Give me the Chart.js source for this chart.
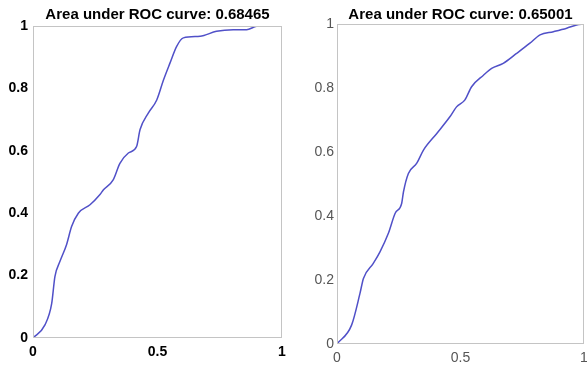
<!DOCTYPE html>
<html>
<head>
<meta charset="utf-8">
<script src="https://cdn.jsdelivr.net/npm/chart.js@4.4.1/dist/chart.umd.min.js"></script>
<style>
  html, body { margin: 0; padding: 0; background: #fff; }
  #wrap { position: relative; width: 587px; height: 366px; }
  .box { position: absolute; top: 0; height: 366px; }
  #leftBox { left: 0; width: 290px; }
  #rightBox { left: 290px; width: 297px; }
</style>
</head>
<body>
<div id="wrap">
  <div class="box" id="leftBox"><canvas id="leftChart"></canvas></div>
  <div class="box" id="rightBox"><canvas id="rightChart"></canvas></div>
</div>
<script>
// left ROC curve (false positive rate / true positive rate)
const leftFpr = [0, 0.048, 0.075, 0.088, 0.108, 0.135, 0.155, 0.182, 0.229, 0.269, 0.283, 0.322,
  0.349, 0.383, 0.416, 0.43, 0.463, 0.497, 0.524, 0.55, 0.577, 0.604, 0.671, 0.737, 0.804, 0.858, 0.898, 0.94, 1]
const leftTpr = [0, 0.042, 0.11, 0.197, 0.245, 0.30, 0.357, 0.40, 0.427, 0.46, 0.475, 0.507,
  0.56, 0.593, 0.614, 0.668, 0.721, 0.763, 0.827, 0.881, 0.935, 0.962, 0.967, 0.983, 0.988, 0.988, 0.999, 1, 1]

// right ROC curve
const rightFpr = [0, 0.059, 0.093, 0.107, 0.147, 0.174, 0.208, 0.235, 0.262, 0.269, 0.289, 0.323,
  0.35, 0.404, 0.457, 0.484, 0.518, 0.545, 0.593, 0.626, 0.673, 0.727, 0.781, 0.822, 0.876, 0.93, 0.97, 1]
const rightTpr = [0, 0.059, 0.158, 0.205, 0.252, 0.288, 0.346, 0.408, 0.44, 0.475, 0.533, 0.565,
  0.606, 0.658, 0.71, 0.741, 0.763, 0.804, 0.84, 0.861, 0.877, 0.908, 0.94, 0.966, 0.976, 0.987, 0.997, 1]

const leftTitle = 'Area under ROC curve: 0.68465'
const rightTitle = 'Area under ROC curve: 0.65001'

const lineColor = '#5050c8'

function toPoints(xs, ys) {
  return xs.map((x, i) => ({ x: x, y: ys[i] }))
}

function tickLabel(value) {
  return String(Number(value.toFixed(2)))
}

// matlab style frame around the plot area
const frame = {
  id: 'frame',
  afterDraw(chart) {
    const a = chart.chartArea
    const ctx = chart.ctx
    ctx.save()
    ctx.strokeStyle = '#c4c4c4'
    ctx.lineWidth = 1
    ctx.strokeRect(a.left + 0.5, a.top + 0.5, a.right - a.left - 1, a.bottom - a.top - 1)
    ctx.restore()
  }
}

function makeChart(id, xs, ys, title, opts) {
  return new Chart(document.getElementById(id), {
    type: 'scatter',
    data: {
      datasets: [{
        data: toPoints(xs, ys),
        showLine: true,
        borderColor: lineColor,
        borderWidth: 1.5,
        pointRadius: 0,
        cubicInterpolationMode: 'monotone'
      }]
    },
    options: {
      animation: false,
      responsive: true,
      maintainAspectRatio: false,
      layout: { padding: { left: 0, right: opts.padRight, top: 0, bottom: 0 } },
      plugins: {
        legend: { display: false },
        tooltip: { enabled: false },
        title: {
          display: true,
          text: title,
          fullSize: false,
          color: '#000',
          font: { family: 'Liberation Sans', size: 15, weight: 'bold', lineHeight: 1 },
          padding: { top: 7, bottom: opts.titleBottom }
        }
      },
      scales: {
        x: {
          type: 'linear',
          min: 0,
          max: 1,
          grid: { display: false, drawTicks: false },
          border: { display: false },
          afterFit(scale) {
            scale.height = opts.xHeight
            scale.paddingLeft = 0
            scale.paddingRight = 0
          },
          ticks: {
            stepSize: 0.5,
            padding: 6,
            color: opts.tickColor,
            callback: tickLabel,
            font: { family: 'Liberation Sans', size: 14, weight: opts.tickWeight }
          }
        },
        y: {
          min: 0,
          max: 1,
          grid: { display: false, drawTicks: false },
          border: { display: false },
          afterFit(scale) {
            scale.width = opts.yWidth
            scale.paddingTop = 0
            scale.paddingBottom = 0
          },
          ticks: {
            stepSize: 0.2,
            padding: opts.yPad,
            color: opts.tickColor,
            callback: tickLabel,
            font: { family: 'Liberation Sans', size: 14, weight: opts.tickWeight }
          }
        }
      }
    },
    plugins: [frame]
  })
}

makeChart('leftChart', leftFpr, leftTpr, leftTitle, {
  padRight: 8, titleBottom: 4, xHeight: 28, yWidth: 33, yPad: 5,
  tickColor: '#000', tickWeight: 'bold'
})
makeChart('rightChart', rightFpr, rightTpr, rightTitle, {
  padRight: 3, titleBottom: 2, xHeight: 22, yWidth: 47, yPad: 3,
  tickColor: '#555', tickWeight: 'normal'
})
</script>
</body>
</html>
